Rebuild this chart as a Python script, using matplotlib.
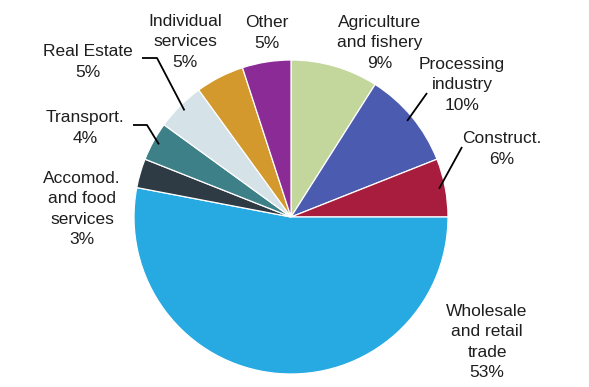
import numpy as np
import matplotlib.pyplot as plt

plt.rcParams['font.family'] = ['Liberation Sans', 'DejaVu Sans']

# Sector shares (%), clockwise from 12 o'clock
sectors = ["Agriculture\nand fishery", "Processing\nindustry", "Construct.",
           "Wholesale\nand retail\ntrade", "Accomod.\nand food\nservices",
           "Transport.", "Real Estate", "Individual\nservices", "Other"]
shares = [9, 10, 6, 53, 3, 4, 5, 5, 5]
colors = ["#c3d69b", "#4b5bb0", "#a81d3d", "#27a9e1", "#2e3a44",
          "#3d8087", "#d5e3e8", "#d4992c", "#8b2b95"]

W, H = 589, 387
fig = plt.figure(figsize=(W / 100, H / 100), dpi=100)
ax = fig.add_axes([0, 0, 1, 1])

cx, cy, R = 291, 170, 157
wedges, _ = ax.pie(shares, colors=colors, startangle=90, counterclock=False,
                   center=(cx, cy), radius=R, frame=True,
                   wedgeprops=dict(edgecolor="white", linewidth=0.9))
ax.set_xlim(0, W)
ax.set_ylim(0, H)
ax.set_aspect("equal")
ax.axis("off")

# label centre positions (x, y from top) and leader elbows
label_pos = {
    0: (380, 43),
    1: (462, 85),
    2: (502, 149),
    3: (487, 342),
    4: (82, 209),
    5: (85, 128),
    6: (88, 62),
    7: (185, 42),
    8: (267, 33),
}
leaders = {
    1: [(427, 93)],
    2: [(462, 147)],
    5: [(133, 125), (147, 125)],
    6: [(142, 58), (157, 58)],
}

for i, (name, val) in enumerate(zip(sectors, shares)):
    lx, ly = label_pos[i]
    ax.text(lx, H - ly, f"{name}\n{val}%", ha="center", va="center",
            fontsize=12.5, color="#1e1e1e", linespacing=1.42)

for i, pts in leaders.items():
    w = wedges[i]
    mid = np.deg2rad((w.theta1 + w.theta2) / 2)
    ex = cx + 0.96 * R * np.cos(mid)
    ey = cy + 0.96 * R * np.sin(mid)
    xs = [p[0] for p in pts] + [ex]
    ys = [H - p[1] for p in pts] + [ey]
    ax.plot(xs, ys, color="black", lw=1.3, solid_capstyle="butt")

fig.savefig("out.png", dpi=100)
